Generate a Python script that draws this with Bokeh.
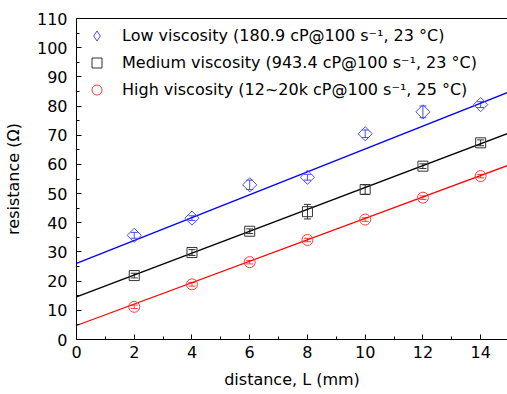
import numpy as np
from bokeh.plotting import figure
from bokeh.models import (ColumnDataSource, Whisker, TeeHead, Legend, LegendItem,
                          LinearAxis, SingleIntervalTicker, FixedTicker, Range1d)
from bokeh.embed import file_html
from bokeh.resources import INLINE

# ---- data ----
distance = [2, 4, 6, 8, 10, 12, 14]

low_res = [35.7, 41.6, 53.0, 55.6, 70.5, 78.0, 80.5]
low_err = [1.0, 0.8, 1.6, 1.0, 1.3, 2.0, 1.0]
med_res = [21.9, 29.8, 37.1, 43.8, 51.4, 59.4, 67.4]
med_err = [0.8, 1.0, 0.8, 2.5, 1.6, 0.8, 1.0]
high_res = [11.2, 18.9, 26.5, 34.1, 41.1, 48.6, 56.0]
high_err = [0.6, 0.6, 0.6, 0.6, 0.6, 0.6, 0.6]

# linear-fit lines: (intercept, slope)
low_fit = [26.1, 3.92]
med_fit = [14.6, 3.75]
high_fit = [4.8, 3.67]

labels = [
    "Low viscosity (180.9 cP@100 s\u207b\u00b9, 23 \u00b0C)",
    "Medium viscosity (943.4 cP@100 s\u207b\u00b9, 23 \u00b0C)",
    "High viscosity (12~20k cP@100 s\u207b\u00b9, 25 \u00b0C)",
]

x_tick_step = 2
y_tick_step = 10

FONT = "DejaVu Sans"
FS = "16px"
X_END = 14.93

p = figure(width=507, height=394, output_backend="svg", toolbar_location=None,
           x_range=Range1d(0, X_END), y_range=Range1d(0, 110),
           min_border_left=72, min_border_right=0, min_border_top=18, min_border_bottom=55)
p.outline_line_color = None
p.xgrid.visible = False
p.ygrid.visible = False
p.background_fill_color = "white"
p.border_fill_color = "white"

for ax in (p.xaxis[0], p.yaxis[0]):
    ax.axis_line_color = "black"
    ax.axis_line_width = 1
    ax.major_tick_in = 5
    ax.major_tick_out = 0
    ax.minor_tick_in = 3
    ax.minor_tick_out = 0
    ax.major_tick_line_color = "black"
    ax.minor_tick_line_color = "black"
    ax.major_label_text_font = FONT
    ax.major_label_text_font_size = FS
    ax.major_label_text_color = "black"
    ax.axis_label_text_font = FONT
    ax.axis_label_text_font_size = FS
    ax.axis_label_text_font_style = "normal"
    ax.axis_label_text_color = "black"

p.xaxis[0].ticker = SingleIntervalTicker(interval=x_tick_step, num_minor_ticks=2)
p.yaxis[0].ticker = SingleIntervalTicker(interval=y_tick_step, num_minor_ticks=2)
p.xaxis[0].axis_label = "distance, L (mm)"
p.yaxis[0].axis_label = "resistance (\u03a9)"
p.xaxis[0].major_label_standoff = 6
p.xaxis[0].axis_label_standoff = 9
p.yaxis[0].major_label_standoff = 9
p.yaxis[0].axis_label_standoff = 11

top = LinearAxis(ticker=FixedTicker(ticks=[]))
top.major_tick_line_color = None
top.minor_tick_line_color = None
top.axis_line_color = "black"
top.major_label_standoff = 0
p.add_layout(top, "above")

series = [
    (low_res, low_err, low_fit, "#0000ff", "#4a4aff", "diamond", 10),
    (med_res, med_err, med_fit, "black", "#333333", "square", 10),
    (high_res, high_err, high_fit, "#ff0000", "#ff3a3a", "circle", 11),
]

items = []
xl = np.array([0, X_END])
for (res, err, fit, lcol, mcol, kind, sz), lab in zip(series, labels):
    p.line(xl, fit[0] + fit[1] * xl, line_color=lcol, line_width=1.3)
    r = np.array(res)
    e = np.array(err)
    src = ColumnDataSource(dict(x=distance, y=res, lo=r - e, hi=r + e))
    w = Whisker(source=src, base="x", upper="hi", lower="lo", line_color=mcol,
                line_width=1,
                upper_head=TeeHead(size=7, line_color=mcol, line_width=1),
                lower_head=TeeHead(size=7, line_color=mcol, line_width=1))
    p.add_layout(w)
    ang = np.pi / 4 if kind == "diamond" else 0.0
    mk = "square" if kind in ("diamond", "square") else "circle"
    p.scatter("x", "y", source=src, marker=mk, size=sz, angle=ang,
              fill_color=None, line_color=mcol, line_width=1)
    # legend proxy glyph (no data in frame)
    lmk = "diamond" if kind == "diamond" else mk
    lsrc = ColumnDataSource(dict(x=[np.nan], y=[np.nan]))
    lr = p.scatter("x", "y", source=lsrc, marker=lmk, size=10,
                   fill_color=None, line_color=mcol, line_width=1)
    items.append(LegendItem(label=lab, renderers=[lr]))

legend = Legend(items=items, location=(8, 237), padding=0, margin=0,
                spacing=2, glyph_width=25, glyph_height=25, label_height=25,
                label_standoff=13, label_text_font=FONT, label_text_font_size=FS,
                label_text_color="black", border_line_color=None,
                background_fill_alpha=0)
p.add_layout(legend, "center")

open("out.html", "w").write(file_html(p, INLINE))
